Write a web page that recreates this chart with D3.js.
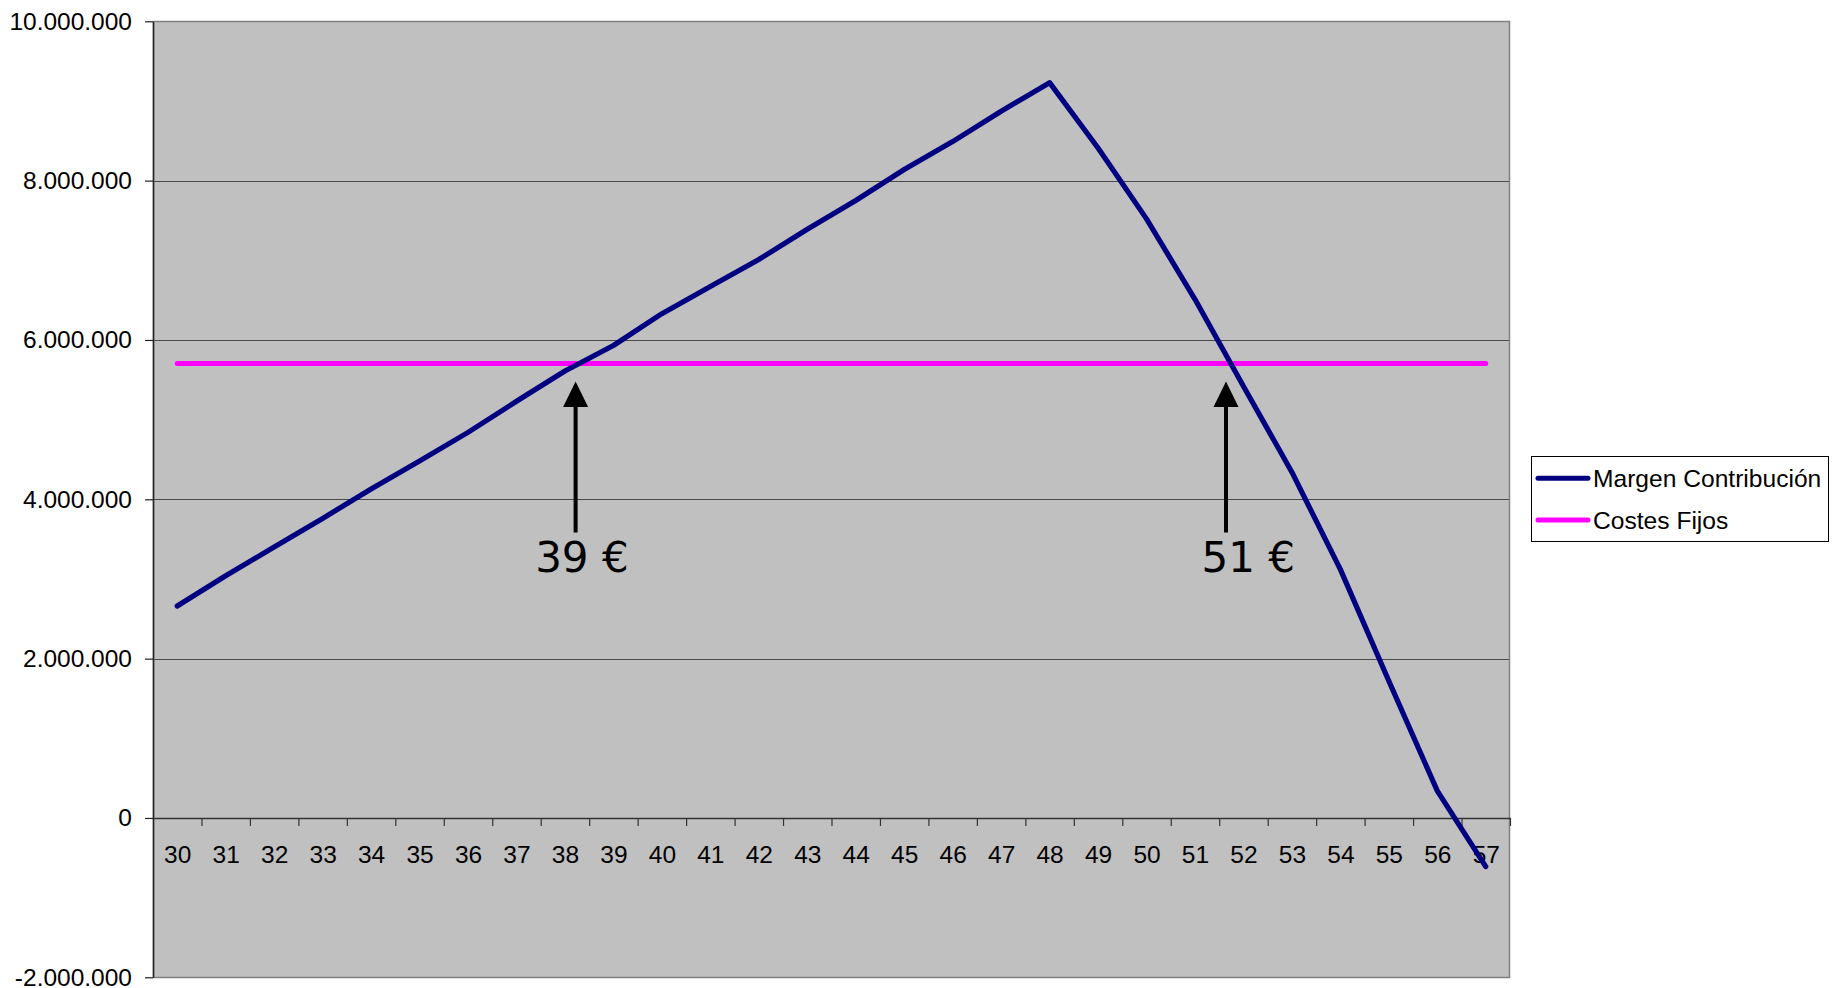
<!DOCTYPE html>
<html lang="es">
<head>
<meta charset="utf-8">
<title>Margen de contribución y costes fijos</title>
<script src="https://cdn.jsdelivr.net/npm/d3@7"></script>
<style>
  html, body { margin: 0; padding: 0; background: #ffffff; }
  svg { display: block; }
  .axis text { font-family: "Liberation Sans", Arial, sans-serif; font-size: 24.5px; fill: #000; }
</style>
</head>
<body>
<svg id="chart" width="1832" height="988"></svg>
<script>
// Precio de venta (€)
const precios = [30, 31, 32, 33, 34, 35, 36, 37, 38, 39, 40, 41, 42, 43,
                 44, 45, 46, 47, 48, 49, 50, 51, 52, 53, 54, 55, 56, 57];

// Margen de contribución por precio (€)
const margenContribucion = [
  2660000, 3040000, 3400000, 3760000, 4130000, 4480000, 4840000, 5230000,
  5610000, 5930000, 6330000, 6670000, 7010000, 7390000, 7750000, 8140000,
  8490000, 8870000, 9230000, 8410000, 7520000, 6510000, 5420000, 4340000,
  3120000, 1720000, 340000, -610000
];

// Costes fijos (constantes para todos los precios)
const costesFijos = precios.map(() => 5705000);

// Marcas del eje vertical
const yTicks = [-2000000, 0, 2000000, 4000000, 6000000, 8000000, 10000000];

// Series de la leyenda
const series = ["Margen Contribución", "Costes Fijos"];
const colores = ["#000080", "#ff00ff"];

// Umbrales de rentabilidad señalados con flecha
const umbralEtiquetas = ["39 €", "51 €"];
const umbralPrecioFlecha = [38.22, 51.64];
const umbralPrecioEtiqueta = [38.35, 52.1];

const svg = d3.select("#chart");
const plot = { left: 153, right: 1510, top: 21.3, bottom: 977.3 };

const x = d3.scaleLinear()
  .domain([precios[0] - 0.5, precios[precios.length - 1] + 0.5])
  .range([plot.left, plot.right]);

const y = d3.scaleLinear()
  .domain([-2000000, 10000000])
  .range([plot.bottom, plot.top]);

const es = d3.formatLocale({ decimal: ",", thousands: ".", grouping: [3], currency: ["", " €"], minus: "-" });
const fmt = es.format(",d");

// Fondo del área de trazado
svg.append("rect")
  .attr("x", plot.left).attr("y", plot.top)
  .attr("width", plot.right - plot.left).attr("height", plot.bottom - plot.top)
  .attr("fill", "#c0c0c0");

// Líneas de división horizontales
svg.append("g")
  .selectAll("line")
  .data(yTicks.filter(v => v !== 0 && v !== -2000000))
  .join("line")
  .attr("x1", plot.left).attr("x2", plot.right)
  .attr("y1", d => Math.round(y(d)) + 0.5).attr("y2", d => Math.round(y(d)) + 0.5)
  .attr("stroke", "#4a4a4a").attr("stroke-width", 1);

// Borde del área de trazado
svg.append("rect")
  .attr("x", plot.left + 0.5).attr("y", Math.round(plot.top) + 0.5)
  .attr("width", plot.right - plot.left - 1).attr("height", Math.round(plot.bottom) - Math.round(plot.top))
  .attr("fill", "none").attr("stroke", "#808080").attr("stroke-width", 1.5);

// Eje vertical
const yAxis = svg.append("g")
  .attr("class", "axis")
  .attr("transform", `translate(${plot.left},0)`)
  .call(d3.axisLeft(y).tickValues(yTicks).tickFormat(fmt).tickSizeInner(8).tickSizeOuter(0).tickPadding(13));
yAxis.select(".domain").attr("stroke", "#222").attr("stroke-width", 1.5);
yAxis.selectAll(".tick line").attr("stroke", "#222").attr("stroke-width", 1.2);

// Eje horizontal en y = 0, con marcas entre categorías
const y0 = y(0);
const limites = d3.range(precios[0] + 0.5, precios[precios.length - 1] + 1, 1);
const xTicks = svg.append("g")
  .attr("class", "axis")
  .attr("transform", `translate(0,${y0})`)
  .call(d3.axisBottom(x).tickValues(limites).tickFormat("").tickSizeInner(8).tickSizeOuter(0));
xTicks.select(".domain").attr("stroke", "#333").attr("stroke-width", 1.5);
xTicks.selectAll(".tick line").attr("stroke", "#333").attr("stroke-width", 1.2);

const xLabels = svg.append("g")
  .attr("class", "axis")
  .attr("transform", `translate(0,${y0})`)
  .call(d3.axisBottom(x).tickValues(precios).tickFormat(d3.format("d")).tickSize(0).tickPadding(28));
xLabels.select(".domain").remove();

// Series
const line = d3.line()
  .x((d, i) => x(precios[i]))
  .y(d => y(d));

svg.append("path")
  .datum(costesFijos)
  .attr("d", line)
  .attr("fill", "none")
  .attr("stroke", colores[1])
  .attr("stroke-width", 5)
  .attr("stroke-linecap", "round");

svg.append("path")
  .datum(margenContribucion)
  .attr("d", line)
  .attr("fill", "none")
  .attr("stroke", colores[0])
  .attr("stroke-width", 5.2)
  .attr("stroke-linecap", "round")
  .attr("stroke-linejoin", "round");

// Flechas y etiquetas de los umbrales
const yCF = y(costesFijos[0]);
const ann = svg.append("g");
umbralEtiquetas.forEach((txt, i) => {
  const ax = x(umbralPrecioFlecha[i]);
  const tipY = yCF + 18;
  ann.append("line")
    .attr("x1", ax).attr("x2", ax)
    .attr("y1", tipY + 22).attr("y2", tipY + 151)
    .attr("stroke", "#000").attr("stroke-width", 4);
  ann.append("path")
    .attr("d", `M${ax},${tipY} L${ax - 12.5},${tipY + 25.5} L${ax + 12.5},${tipY + 25.5} Z`)
    .attr("fill", "#000");
  ann.append("text")
    .attr("x", x(umbralPrecioEtiqueta[i]))
    .attr("y", tipY + 191)
    .attr("text-anchor", "middle")
    .attr("font-family", "'DejaVu Sans', Verdana, sans-serif")
    .attr("font-size", 42)
    .attr("fill", "#000")
    .text(txt);
});

// Leyenda
const lg = svg.append("g").attr("transform", "translate(1531,456)");
lg.append("rect")
  .attr("x", 0.5).attr("y", 0.5).attr("width", 297).attr("height", 85)
  .attr("fill", "#fff").attr("stroke", "#000").attr("stroke-width", 1);
series.forEach((s, i) => {
  const ly = 22.3 + i * 41.7;
  lg.append("line")
    .attr("x1", 7).attr("x2", 57).attr("y1", ly).attr("y2", ly)
    .attr("stroke", colores[i]).attr("stroke-width", 5).attr("stroke-linecap", "round");
  lg.append("text")
    .attr("x", 62).attr("y", ly + 8.5)
    .attr("font-family", "'Liberation Sans', Arial, sans-serif")
    .attr("font-size", 24.6)
    .attr("fill", "#000")
    .text(s);
});
</script>
</body>
</html>
